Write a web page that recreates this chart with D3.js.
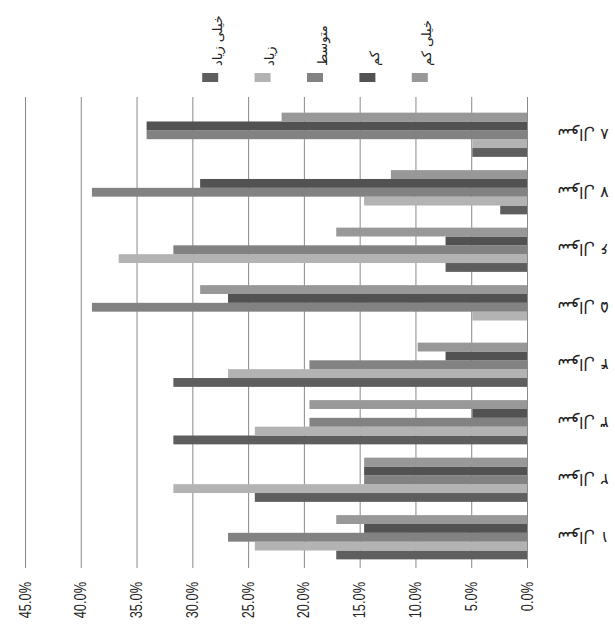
<!DOCTYPE html>
<meta charset="utf-8">
<head>
<script src="https://d3js.org/d3.v7.min.js"></script>
<style>
body { margin: 0; background: #fff; }
</style>
</head>
<body>

<div id="container"></div>

<script>

// chart is drawn turned on its side, like the scanned original
var categories = ["سوال ۱", "سوال ۲", "سوال ۳", "سوال ۴", "سوال ۵", "سوال ۶", "سوال ۷", "سوال ۸"];
var series = ["خیلی زیاد", "زیاد", "متوسط", "کم", "خیلی کم"];
var colors = ["#5e5e5e", "#b3b3b3", "#828282", "#525252", "#989898"];

// percent of answers, one array per series, in category order
var veryHigh = [17.1, 24.4, 31.7, 31.7, 0.0, 7.3, 2.4, 4.9];
var high     = [24.4, 31.7, 24.4, 26.8, 4.9, 36.6, 14.6, 4.9];
var medium   = [26.8, 14.6, 19.5, 19.5, 39.0, 31.7, 39.0, 34.1];
var low      = [14.6, 14.6, 4.9, 7.3, 26.8, 7.3, 29.3, 34.1];
var veryLow  = [17.1, 14.6, 19.5, 9.8, 29.3, 17.1, 12.2, 22.0];
var values = [veryHigh, high, medium, low, veryLow];

var tickValues = [0, 5, 10, 15, 20, 25, 30, 35, 40, 45];

var width = 615, height = 624;

var svg = d3.select('#container')
  .append('svg')
  .attr('width', width)
  .attr('height', height);

var x = d3.scaleLinear().domain([0, 45]).range([527, 25]);

var y = d3.scaleBand()
  .domain(categories.slice().reverse())
  .range([106, 566])
  .paddingInner(0.3/1.3)
  .paddingOuter(0.15/1.3);

var inner = d3.scaleBand()
  .domain(series.slice().reverse())
  .range([0, y.bandwidth()]);

// grid lines
svg.append('g')
  .selectAll('line')
  .data(tickValues)
  .enter().append('line')
  .attr('x1', d => x(d) + 0.5)
  .attr('x2', d => x(d) + 0.5)
  .attr('y1', 97)
  .attr('y2', 568)
  .attr('stroke', '#8a8a8a')
  .attr('stroke-width', 1);

// bars
var rows = [];
categories.forEach(function(c, i) {
    series.forEach(function(s, j) {
        rows.push({cat: c, ser: s, val: values[j][i], col: colors[j]});
    });
});

svg.append('g')
  .selectAll('rect')
  .data(rows)
  .enter().append('rect')
  .attr('x', d => x(d.val))
  .attr('y', d => y(d.cat) + inner(d.ser))
  .attr('width', d => x(0) - x(d.val))
  .attr('height', inner.bandwidth())
  .attr('fill', d => d.col);

// value labels (rotated, squeezed like the narrow font of the original)
svg.append('g')
  .selectAll('text')
  .data(tickValues)
  .enter().append('text')
  .attr('transform', d => 'translate(' + x(d) + ',582) rotate(-90) scale(0.8,1)')
  .attr('text-anchor', 'end')
  .attr('dy', '0.35em')
  .style('font-family', '"Liberation Sans", sans-serif')
  .style('font-size', '16px')
  .attr('fill', '#222')
  .text(d => d3.format('.1f')(d) + '%');

// category labels (upside down)
svg.append('g')
  .selectAll('text')
  .data(categories)
  .enter().append('text')
  .attr('transform', d => 'translate(583,' + (y(d) + y.bandwidth()/2) + ') rotate(180)')
  .attr('text-anchor', 'middle')
  .attr('dy', '0.35em')
  .style('font-family', '"DejaVu Sans", sans-serif')
  .style('font-size', '16px')
  .attr('fill', '#222')
  .text(d => d);

// legend
var legendX = d3.scaleBand().domain(series).range([184, 446]);

var leg = svg.append('g')
  .selectAll('g')
  .data(series)
  .enter().append('g');

leg.append('rect')
  .attr('x', d => legendX(d) + legendX.bandwidth()/2 - 8)
  .attr('y', 73)
  .attr('width', 16)
  .attr('height', 9)
  .attr('fill', (d, i) => colors[i]);

leg.append('text')
  .attr('text-anchor', 'middle')
  .attr('dy', '0.35em')
  .style('font-family', '"DejaVu Sans", sans-serif')
  .style('font-size', '13px')
  .attr('fill', '#222')
  .text(d => d)
  .attr('transform', function(d) {
      var len = this.getComputedTextLength();
      return 'translate(' + (legendX(d) + legendX.bandwidth()/2 + 7) + ',' + (66 - len/2) + ') rotate(-90)';
  });

</script>

</body>
